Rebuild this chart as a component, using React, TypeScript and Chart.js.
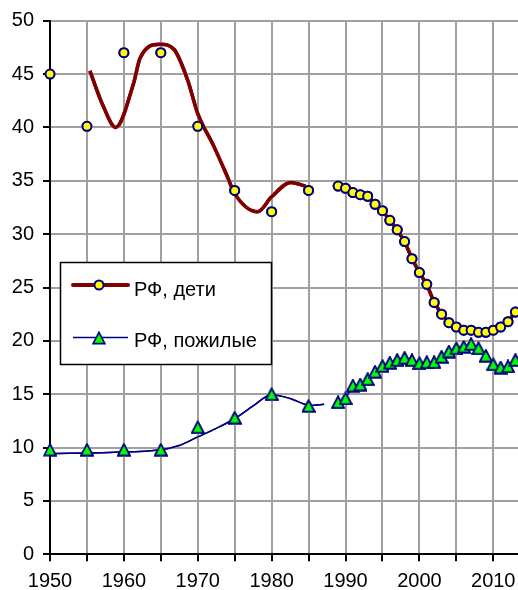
import React, { useEffect, useRef, useState } from 'react';
import { Chart, registerables } from 'chart.js';

Chart.register(...registerables);

const FONT = "'Liberation Sans', Arial, sans-serif";

// ---- data ----
const seriesLabels = ['РФ, дети', 'РФ, пожилые'];

const earlyYears = [1950, 1955, 1960, 1965, 1970, 1975, 1980, 1985];
const childrenEarly = [45.0, 40.1, 47.0, 47.0, 40.1, 34.1, 32.1, 34.1];
const elderlyEarly = [9.8, 9.8, 9.8, 9.8, 11.9, 12.8, 15.0, 13.9];

const lateYears = [
  1989, 1990, 1991, 1992, 1993, 1994, 1995, 1996, 1997, 1998, 1999, 2000, 2001,
  2002, 2003, 2004, 2005, 2006, 2007, 2008, 2009, 2010, 2011, 2012, 2013,
];
const childrenLate = [
  34.5, 34.3, 33.9, 33.7, 33.55, 32.8, 32.2, 31.3, 30.4, 29.3, 27.7, 26.4, 25.3,
  23.6, 22.5, 21.7, 21.3, 21.0, 21.0, 20.8, 20.8, 21.0, 21.3, 21.8, 22.7,
];
const elderlyLate = [
  14.25, 14.6, 15.8, 15.9, 16.4, 17.1, 17.65, 17.95, 18.2, 18.4, 18.2, 17.9, 18.0,
  18.0, 18.5, 19.0, 19.3, 19.45, 19.7, 19.3, 18.6, 17.8, 17.5, 17.6, 18.2,
];

const childrenTrendYears = [
  1955.4, 1957.2, 1958.9, 1961.3, 1962.2, 1964.9, 1966.8, 1968.6, 1970.0, 1972.2,
  1974.0, 1975.0, 1978.1, 1980.0, 1982.6, 1984.6,
];
const childrenTrendValues = [
  45.3, 42.0, 40.0, 44.1, 46.5, 47.8, 47.3, 44.5, 41.3, 38.2, 35.4, 33.8, 32.1,
  33.5, 34.85, 34.5,
];
const elderlyTrendYears = [
  1950, 1958, 1965, 1967.5, 1970, 1972.5, 1975, 1977.5, 1980, 1982.5, 1985.3, 1987.1,
];
const elderlyTrendValues = [
  9.45, 9.55, 9.8, 10.2, 11.0, 11.8, 12.7, 13.9, 14.95, 14.6, 13.95, 14.05,
];

const xTickValues = [1950, 1955, 1960, 1965, 1970, 1975, 1980, 1985, 1990, 1995, 2000, 2005, 2010];
const xTickLabels = [1950, 1960, 1970, 1980, 1990, 2000, 2010];
const yTickValues = [0, 5, 10, 15, 20, 25, 30, 35, 40, 45, 50];

const pts = (xs: number[], ys: number[]) => xs.map((x, i) => ({ x, y: ys[i] }));

const CHILD_LINE = '#800000';
const NAVY = '#000080';
const YELLOW = '#ffff00';
const GREEN = '#00ff00';
const GRID = 'rgb(160, 160, 160)';

type GridPos = { vx: number[]; hy: number[]; left: number; top: number; bottom: number; right: number };

function makeTriangle(): HTMLCanvasElement {
  const c = document.createElement('canvas');
  c.width = 14;
  c.height = 14;
  const g = c.getContext('2d')!;
  g.beginPath();
  g.moveTo(7, 1.3);
  g.lineTo(12.9, 12.6);
  g.lineTo(1.1, 12.6);
  g.closePath();
  g.fillStyle = GREEN;
  g.fill();
  g.lineWidth = 1.6;
  g.lineJoin = 'miter';
  g.strokeStyle = NAVY;
  g.stroke();
  return c;
}

export default function App() {
  const ref = useRef<HTMLCanvasElement | null>(null);
  const [grid, setGrid] = useState<GridPos | null>(null);

  useEffect(() => {
    if (!ref.current) return;
    const tri = makeTriangle();

    const overlayPlugin = {
      id: 'gridAndLegend',
      afterDraw(chart: any) {
        const ctx = chart.ctx as CanvasRenderingContext2D;
        const { left, top, bottom } = chart.chartArea;
        const right = chart.width;
        const xs = chart.scales.x;
        const ys = chart.scales.y;

        // grid as filled rectangles
        ctx.save();
        ctx.fillStyle = GRID;
        for (let i = 0; i < xTickValues.length; i++) {
          const px = Math.round(xs.getPixelForValue(xTickValues[i]));
          ctx.fillRect(px - 1, top, 2, bottom - top);
        }
        for (let i = 0; i < yTickValues.length; i++) {
          const py = Math.round(ys.getPixelForValue(yTickValues[i]));
          ctx.fillRect(left, py - 1, right - left, 2);
        }
        ctx.fillStyle = '#000000';
        const ax = Math.round(left);
        const ay = Math.round(ys.getPixelForValue(0));
        ctx.fillRect(ax - 1, Math.round(top) - 1, 2, ay - Math.round(top) + 2);
        ctx.fillRect(ax - 1, ay - 1, right - ax + 1, 2);
        ctx.restore();

        // series again on top of the grid
        const metas = chart.getSortedVisibleDatasetMetas();
        for (let i = metas.length - 1; i >= 0; i--) {
          ctx.save();
          metas[i].controller.draw();
          ctx.restore();
        }

        // legend
        ctx.save();
        ctx.fillStyle = '#ffffff';
        ctx.fillRect(60, 262, 212, 103);
        ctx.strokeStyle = '#000000';
        ctx.lineWidth = 1.5;
        ctx.strokeRect(60.5, 262.5, 211, 102);

        ctx.beginPath();
        ctx.lineCap = 'round';
        ctx.strokeStyle = CHILD_LINE;
        ctx.lineWidth = 4;
        ctx.moveTo(73, 285);
        ctx.lineTo(128, 285);
        ctx.stroke();
        ctx.beginPath();
        ctx.arc(99, 285, 4.5, 0, Math.PI * 2);
        ctx.fillStyle = YELLOW;
        ctx.fill();
        ctx.lineWidth = 2;
        ctx.strokeStyle = NAVY;
        ctx.stroke();

        ctx.beginPath();
        ctx.lineCap = 'butt';
        ctx.strokeStyle = NAVY;
        ctx.lineWidth = 1.5;
        ctx.moveTo(73, 337.5);
        ctx.lineTo(128, 337.5);
        ctx.stroke();
        ctx.drawImage(tri, 92, 331);

        ctx.fillStyle = '#000000';
        ctx.font = `20px ${FONT}`;
        ctx.textBaseline = 'alphabetic';
        ctx.textAlign = 'left';
        ctx.fillText(seriesLabels[0], 134, 296);
        ctx.fillText(seriesLabels[1], 134, 346.5);
        ctx.restore();
      },
    };

    const chart = new Chart(ref.current, {
      type: 'scatter',
      data: {
        datasets: [
          {
            label: seriesLabels[0] + ' 1',
            data: pts(earlyYears, childrenEarly),
            showLine: false,
            pointStyle: 'circle',
            pointRadius: 4.5,
            pointBorderWidth: 2,
            pointBackgroundColor: YELLOW,
            pointBorderColor: NAVY,
          },
          {
            label: seriesLabels[0] + ' 2',
            data: pts(lateYears, childrenLate),
            showLine: true,
            borderColor: CHILD_LINE,
            borderWidth: 3.5,
            tension: 0,
            pointStyle: 'circle',
            pointRadius: 4.5,
            pointBorderWidth: 2,
            pointBackgroundColor: YELLOW,
            pointBorderColor: NAVY,
          },
          {
            label: seriesLabels[1] + ' 1',
            data: pts(earlyYears, elderlyEarly),
            showLine: false,
            pointStyle: tri,
          },
          {
            label: seriesLabels[1] + ' 2',
            data: pts(lateYears, elderlyLate),
            showLine: true,
            borderColor: NAVY,
            borderWidth: 1.5,
            tension: 0,
            pointStyle: tri,
          },
          {
            label: 'trend children',
            data: pts(childrenTrendYears, childrenTrendValues),
            showLine: true,
            borderColor: CHILD_LINE,
            borderWidth: 3.5,
            cubicInterpolationMode: 'monotone',
            tension: 0.4,
            pointRadius: 0,
          },
          {
            label: 'trend elderly',
            data: pts(elderlyTrendYears, elderlyTrendValues),
            showLine: true,
            borderColor: NAVY,
            borderWidth: 1.5,
            cubicInterpolationMode: 'monotone',
            tension: 0.4,
            pointRadius: 0,
          },
        ] as any,
      },
      options: {
        animation: false,
        responsive: false,
        events: [],
        layout: { autoPadding: false, padding: { top: 20.7, left: 0, right: 0, bottom: 0 } },
        plugins: {
          legend: { display: false },
          tooltip: { enabled: false },
        },
        scales: {
          x: {
            type: 'linear',
            min: 1950,
            max: 2013.35,
            afterFit: (s: any) => {
              s.height = 35.7;
              s.paddingLeft = 0;
              s.paddingRight = 0;
            },
            grid: { color: GRID, lineWidth: 2, tickColor: '#000000', tickLength: 7 },
            border: { color: '#000000', width: 2 },
            ticks: {
              stepSize: 5,
              includeBounds: false,
              color: '#000000',
              font: { family: FONT, size: 20 },
              padding: 8,
              maxRotation: 0,
              autoSkip: false,
              callback: (v: any) => (xTickLabels.includes(Number(v)) ? String(v) : ''),
            },
          },
          y: {
            type: 'linear',
            min: 0,
            max: 50,
            afterFit: (s: any) => {
              s.width = 50;
              s.paddingTop = 0;
              s.paddingBottom = 0;
            },
            grid: { color: GRID, lineWidth: 2, tickColor: '#000000', tickLength: 7 },
            border: { color: '#000000', width: 2 },
            ticks: {
              stepSize: 5,
              color: '#000000',
              font: { family: FONT, size: 20 },
              padding: 9,
            },
          },
        },
      } as any,
      plugins: [overlayPlugin],
    });

    // grid positions from the chart's scales, for an HTML layer under the canvas
    const sx = chart.scales.x as any;
    const sy = chart.scales.y as any;
    const ca = chart.chartArea;
    setGrid({
      vx: xTickValues.map((v) => Math.round(sx.getPixelForValue(v))),
      hy: yTickValues.map((v) => Math.round(sy.getPixelForValue(v))),
      left: ca.left,
      top: ca.top,
      bottom: ca.bottom,
      right: chart.width,
    });

    return () => chart.destroy();
  }, []);

  return (
    <div style={{ position: 'absolute', left: 0, top: 0, width: 518, height: 590, background: '#ffffff' }}>
      {grid &&
        grid.vx.map((x, i) => (
          <div
            key={'v' + i}
            style={{
              position: 'absolute',
              left: x - 1,
              top: grid.top,
              width: 2,
              height: grid.bottom - grid.top,
              background: GRID,
            }}
          />
        ))}
      {grid &&
        grid.hy.map((y, i) => (
          <div
            key={'h' + i}
            style={{
              position: 'absolute',
              left: grid.left,
              top: y - 1,
              width: grid.right - grid.left,
              height: 2,
              background: GRID,
            }}
          />
        ))}
      <canvas ref={ref} width={518} height={590} style={{ position: 'absolute', left: 0, top: 0 }} />
    </div>
  );
}
